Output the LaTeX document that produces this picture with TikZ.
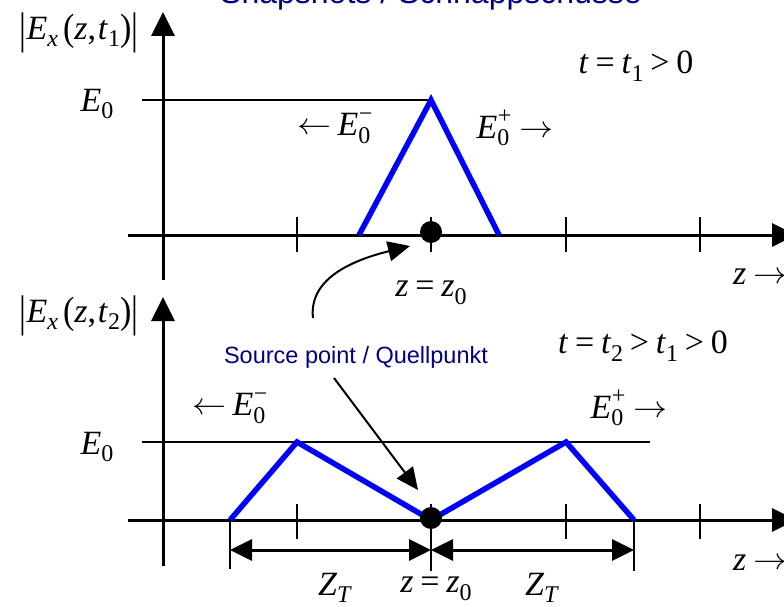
\RequirePackage{fix-cm}
\documentclass[tikz,border=0pt]{standalone}
\usepackage{graphicx}
\usepackage{fontspec}
\setmainfont{Liberation Serif}
\newfontfamily\sansfam{Liberation Sans}
\usetikzlibrary{arrows.meta}
\definecolor{navytext}{RGB}{0,0,128}
\definecolor{pulseblue}{RGB}{0,0,255}
\newcommand{\mi}[1]{\textit{#1}}
\newcommand{\lo}[1]{\raisebox{-0.22em}{\fontsize{24}{24}\selectfont #1}}
\newcommand{\hi}[1]{\raisebox{0.42em}{\fontsize{24}{24}\selectfont #1}}
\newcommand{\rl}[1]{\hspace{0.2em}#1\hspace{0.2em}}
\newcommand{\tbar}{\raisebox{-0.12em}{\scalebox{1}[1.3]{|}}}
\newcommand{\lpar}{\raisebox{-0.04em}{\scalebox{1}[1.12]{(}}}
\newcommand{\rpar}{\raisebox{-0.04em}{\scalebox{1}[1.12]{)}}}
\newcommand{\Ezero}[1]{\mi{E}\rlap{\hi{\kern0.02em #1}}\lo{0}}
\newcommand{\ra}{\raisebox{0.03em}{\scalebox{1}[0.9]{$\rightarrow$}}}
\newcommand{\la}{\raisebox{0.03em}{\scalebox{1}[0.9]{$\leftarrow$}}}
\begin{document}
\begin{tikzpicture}[x=1pt,y=-1pt,
  lab/.style={font=\fontsize{34}{34}\selectfont, inner sep=0pt},
  sanslab/.style={font=\sansfam\fontsize{23.5}{23.5}\selectfont, text=navytext, inner sep=0pt},
  axis/.style={line width=3pt, -{Triangle[length=24pt,width=23pt]}},
  tk/.style={line width=2pt},
  levelline/.style={line width=2pt},
  pulse/.style={draw=pulseblue, line width=5.5pt, line join=miter},
  dotfill/.style={circle, fill=black, minimum size=22pt, inner sep=0pt},
  dimline/.style={line width=3pt, {Triangle[length=22pt,width=21pt]}-{Triangle[length=22pt,width=21pt]}},
  extline/.style={line width=2pt},
  pointer/.style={line width=2pt, -{Triangle[length=22pt,width=20pt]}}
]
\useasboundingbox (0,0) rectangle (784,607);

% title (mostly cut off at the top, as in the reference)
\node[font=\sansfam\fontsize{32}{32}\selectfont, text=navytext, inner sep=0pt, anchor=base] (title) at (431,4) {Snapshots / Schnappschüsse};

% ---------------- top panel ----------------
\coordinate (ya0) at (163,280);
\coordinate (ya1) at (163,12);
\coordinate (xa0) at (128,235);
\coordinate (xa1) at (796,235);
\draw[axis] (ya0) -- (ya1);
\draw[axis] (xa0) -- (xa1);
\foreach \xx in {297,431,566,700} \draw[tk] (\xx,217) -- (\xx,252);
\coordinate (lv0) at (142,100);
\coordinate (pk) at (431,100);
\draw[levelline] (lv0) -- (pk);
\coordinate (pa) at (359,235);
\coordinate (pb) at (499,235);
\draw[pulse] (pa) -- (pk) -- (pb);
\node[dotfill] (dot1) at (431,232) {};

\node[lab] (ylab1) at (79,33) {\tbar\mi{E}\lo{\mi{x}}\hspace{0.15em}\lpar\mi{z},\hspace{0.05em}\mi{t}\lo{1}\rpar\tbar};
\node[lab] (e0a) at (97,104) {\mi{E}\lo{0}};
\node[lab] (time1) at (636,66) {\mi{t}\rl{=}\mi{t}\lo{1}\rl{>}0};
\node[lab] (em1) at (334,128) {\la\hspace{0.18em}\Ezero{−}};
\node[lab] (ep1) at (515,128) {\Ezero{+}\hspace{0.3em}\ra};
\node[lab, anchor=west] (zr1) at (733,277) {\mi{z}\hspace{0.2em}\ra};
\node[lab] (zz1) at (431,293) {\mi{z}\rl{=}\mi{z}\lo{0}};

\coordinate (cstart) at (313,318);
\draw[pointer] (cstart) .. controls (309,282) and (345,262) .. (410,246);

% ---------------- bottom panel ----------------
\coordinate (yb0) at (163,566);
\coordinate (yb1) at (163,297);
\coordinate (xb0) at (128,520);
\coordinate (xb1) at (796,520);
\draw[axis] (yb0) -- (yb1);
\draw[axis] (xb0) -- (xb1);
\foreach \xx in {297,431,566,700} \draw[tk] (\xx,504) -- (\xx,539);
\coordinate (lw0) at (142,442);
\coordinate (lw1) at (650,442);
\draw[levelline] (lw0) -- (lw1);
\coordinate (q0) at (230,520);
\coordinate (q1) at (297,442);
\coordinate (q2) at (431,520);
\coordinate (q3) at (566,442);
\coordinate (q4) at (634,520);
\draw[pulse] (q0) -- (q1) -- (q2) -- (q3) -- (q4);
\node[dotfill] (dot2) at (431,518) {};

% dimension lines
\coordinate (d0) at (230,550);
\coordinate (d1) at (431,550);
\coordinate (d2) at (634,550);
\draw[extline] (q0) -- (230,569);
\draw[extline] (q4) -- (634,571);
\draw[extline] (431,535) -- (431,571);
\draw[dimline] (d0) -- (d1);
\draw[dimline] (d1) -- (d2);

\node[lab] (ylab2) at (79,316) {\tbar\mi{E}\lo{\mi{x}}\hspace{0.15em}\lpar\mi{z},\hspace{0.05em}\mi{t}\lo{2}\rpar\tbar};
\node[lab] (e0b) at (97,447) {\mi{E}\lo{0}};
\node[lab] (time2) at (643,346) {\mi{t}\rl{=}\mi{t}\lo{2}\rl{>}\mi{t}\lo{1}\rl{>}0};
\node[lab] (em2) at (229,408) {\la\hspace{0.18em}\Ezero{−}};
\node[lab] (ep2) at (629,408) {\Ezero{+}\hspace{0.3em}\ra};
\node[lab, anchor=west] (zr2) at (733,563) {\mi{z}\hspace{0.2em}\ra};
\node[lab] (zt1) at (335,588) {\mi{Z}\lo{\mi{T}}};
\node[lab] (zz2) at (436,589) {\mi{z}\rl{=}\mi{z}\lo{0}};
\node[lab] (zt2) at (542,588) {\mi{Z}\lo{\mi{T}}};

\node[sanslab] (src) at (356,357) {Source point / Quellpunkt};
\coordinate (sa) at (334,378);
\coordinate (sb) at (418,490);
\draw[pointer] (sa) -- (sb);
\end{tikzpicture}
\end{document}
